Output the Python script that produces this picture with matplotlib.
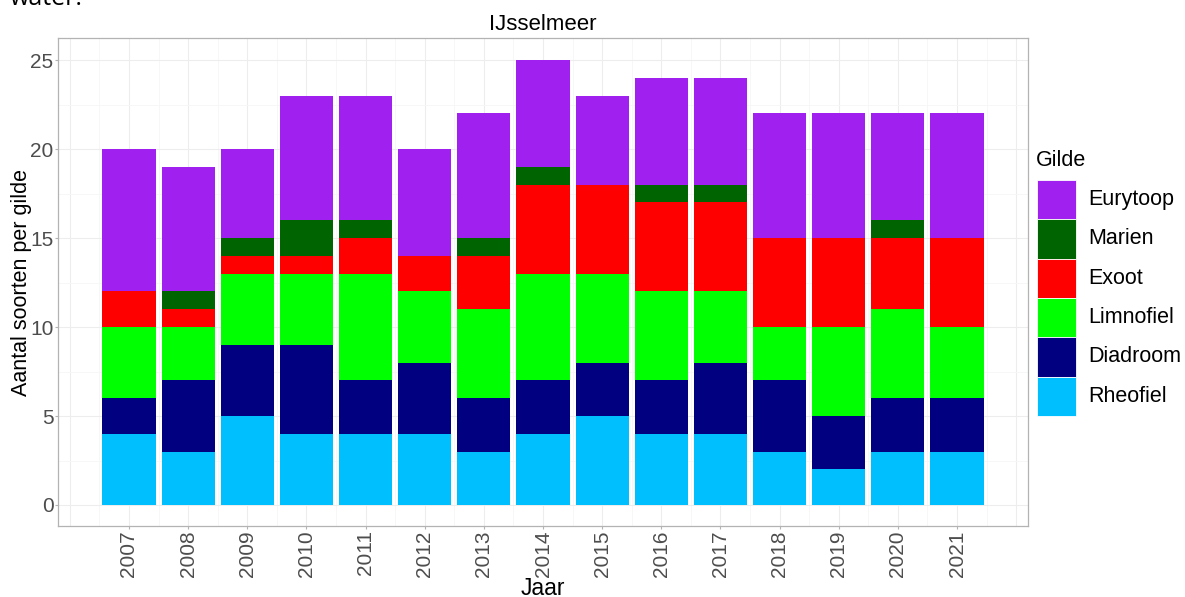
import numpy as np
import matplotlib
matplotlib.use("Agg")
import matplotlib.pyplot as plt
from matplotlib.patches import Rectangle

# ==============================
# Data
# ==============================
years = ["2007", "2008", "2009", "2010", "2011", "2012", "2013", "2014",
         "2015", "2016", "2017", "2018", "2019", "2020", "2021"]

# stacking order from bottom to top
rheofiel = [4, 3, 5, 4, 4, 4, 3, 4, 5, 4, 4, 3, 2, 3, 3]
diadroom = [2, 4, 4, 5, 3, 4, 3, 3, 3, 3, 4, 4, 3, 3, 3]
limnofiel = [4, 3, 4, 4, 6, 4, 5, 6, 5, 5, 4, 3, 5, 5, 4]
exoot = [2, 1, 1, 1, 2, 2, 3, 5, 5, 5, 5, 5, 5, 4, 5]
marien = [0, 1, 1, 2, 1, 0, 1, 1, 0, 1, 1, 0, 0, 1, 0]
eurytoop = [8, 7, 5, 7, 7, 6, 7, 6, 5, 6, 6, 7, 7, 6, 7]

gilden = ["Rheofiel", "Diadroom", "Limnofiel", "Exoot", "Marien", "Eurytoop"]
series = [rheofiel, diadroom, limnofiel, exoot, marien, eurytoop]
colors = ["#00BFFF", "#000080", "#00FF00", "#FF0000", "#006400", "#A020F0"]

# ==============================
# Figure
# ==============================
plt.rcParams["font.family"] = ["Liberation Sans", "DejaVu Sans"]

W, H = 1185, 597
fig = plt.figure(figsize=(W / 100, H / 100), dpi=100)
ax = fig.add_axes([58 / W, 71 / H, 970 / W, 488 / H])

x = np.arange(len(years))
bottom = np.zeros(len(years))
for name, vals, col in zip(gilden, series, colors):
    vals = np.array(vals, dtype=float)
    ax.bar(x, vals, width=0.9, bottom=bottom, color=col, label=name,
           linewidth=0, zorder=3)
    bottom += vals

# ticks
ax.set_xticks(x)
ax.set_xticklabels(years, rotation=90, fontsize=15, color="#4D4D4D")
ax.set_yticks([0, 5, 10, 15, 20, 25])
ax.tick_params(axis="y", labelsize=15, labelcolor="#4D4D4D")
ax.tick_params(length=2.2, pad=1, color="#B3B3B3", width=0.8)

# limits after ticks so the ticks don't stretch the view
xlim = (-1.2, len(years) - 1 + 1.2)
ylim = (-1.18, 26.24)

# grid (ggplot theme_light look)
for xv in np.arange(-1, len(years) + 1):
    ax.axvline(xv, color="#EDEDED", linewidth=0.8, zorder=0)
for xv in np.arange(-0.5, len(years) + 0.5):
    ax.axvline(xv, color="#F6F6F6", linewidth=0.6, zorder=0)
for yv in [0, 5, 10, 15, 20, 25]:
    ax.axhline(yv, color="#EDEDED", linewidth=0.8, zorder=0)
for yv in [2.5, 7.5, 12.5, 17.5, 22.5]:
    ax.axhline(yv, color="#F6F6F6", linewidth=0.6, zorder=0)

ax.set_xlim(*xlim)
ax.set_ylim(*ylim)

for s in ax.spines.values():
    s.set_color("#B3B3B3")
    s.set_linewidth(0.9)

ax.set_xlabel("Jaar", fontsize=16.5)
ax.xaxis.set_label_coords(0.5, -(577 - 526) / 488)
ax.set_ylabel("Aantal soorten per gilde", fontsize=15.5)
ax.yaxis.set_label_coords(-(58 - 32) / 970, 0.5)
ax.set_title("IJsselmeer", fontsize=16, pad=6)

# legend, drawn by hand so keys line up like the reference
key_x, key_w, key_h = 1037, 39, 39.3
key_top = 180
fig.text(1036 / W, 1 - 160 / H, "Gilde", fontsize=15.5, va="center",
         ha="left")
for i, (name, col) in enumerate(zip(gilden[::-1], colors[::-1])):
    y_top = key_top + i * key_h
    fig.patches.append(Rectangle((key_x / W, 1 - (y_top + key_h) / H),
                                 key_w / W, key_h / H,
                                 transform=fig.transFigure,
                                 facecolor=col, edgecolor="white",
                                 linewidth=0.6))
    fig.text(1088 / W, 1 - (y_top + key_h / 2) / H, name, fontsize=15.5,
             va="center", ha="left")

# cut off text from the page above
fig.text(10 / W, 1 - 5 / H, "water.", fontsize=18, va="baseline",
         ha="left", family=["Open Sans", "DejaVu Sans"])

fig.savefig("out.png", dpi=100)
